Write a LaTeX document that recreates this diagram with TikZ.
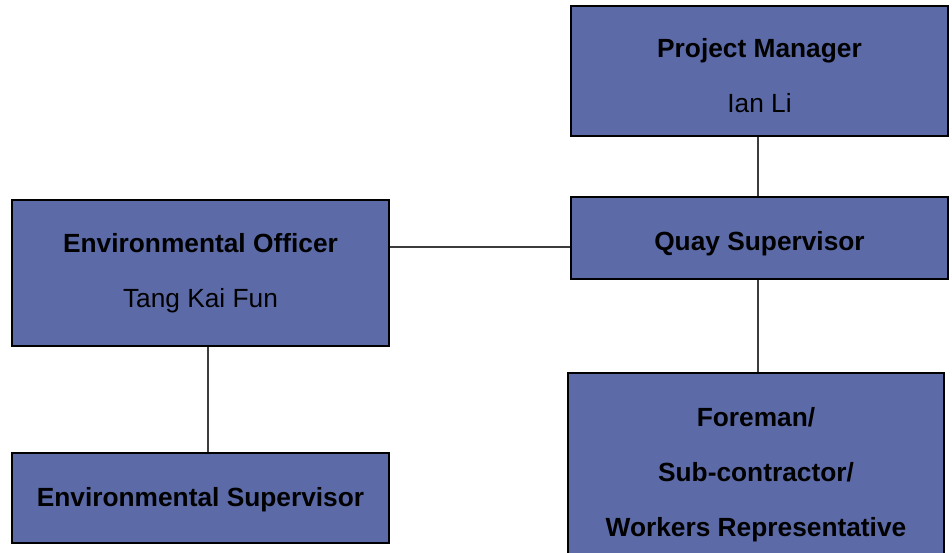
\documentclass[tikz,border=0pt]{standalone}
\usepackage{fontspec}
\setmainfont{Liberation Sans}
\definecolor{boxfill}{RGB}{92,107,168}
\definecolor{linegray}{RGB}{60,60,60}
\tikzset{
  orgbox/.style={draw=black, line width=1.5pt, fill=boxfill, rectangle, inner sep=0pt},
  boxtext/.style={inner sep=0pt, align=center, font=\fontsize{26.3}{55}\selectfont, text=black},
  link/.style={draw=linegray, line width=1.3pt}
}
\begin{document}
\begin{tikzpicture}[x=1pt,y=-1pt]
\useasboundingbox (0,0) rectangle (952,553);
\node[orgbox, minimum width=377pt, minimum height=130pt] (pm) at (759.5,71) {};
\node[boxtext] (pmt) at ([yshift=-5pt]pm.center) {\textbf{Project Manager}\\Ian Li};
\node[orgbox, minimum width=377pt, minimum height=82pt] (qs) at (759.5,238) {};
\node[boxtext] (qst) at ([yshift=-6pt]qs.center) {\textbf{Quay Supervisor}};
\node[orgbox, minimum width=377pt, minimum height=146pt] (eo) at (200.5,273) {};
\node[boxtext] (eot) at (eo.center) {\textbf{Environmental Officer}\\Tang Kai Fun};
\node[orgbox, minimum width=377pt, minimum height=90pt] (es) at (200.5,498) {};
\node[boxtext] (est) at ([yshift=-2pt]es.center) {\textbf{Environmental Supervisor}};
\node[orgbox, minimum width=376pt, minimum height=198pt] (fm) at (756,472) {};
\node[boxtext] (fmt) at ([yshift=-3pt]fm.center)
  {\textbf{Foreman/}\\\textbf{Sub-contractor/}\\\textbf{Workers Representative}};
\coordinate (hy) at (0,247);
\coordinate (vx) at (208,0);
\coordinate (rx) at (758,0);
\draw[link] (pm.south -| rx) -- (qs.north -| rx);
\draw[link] (qs.south -| rx) -- (fm.north -| rx);
\draw[link] (eo.east |- hy) -- (qs.west |- hy);
\draw[link] (eo.south -| vx) -- (es.north -| vx);
\end{tikzpicture}
\end{document}
